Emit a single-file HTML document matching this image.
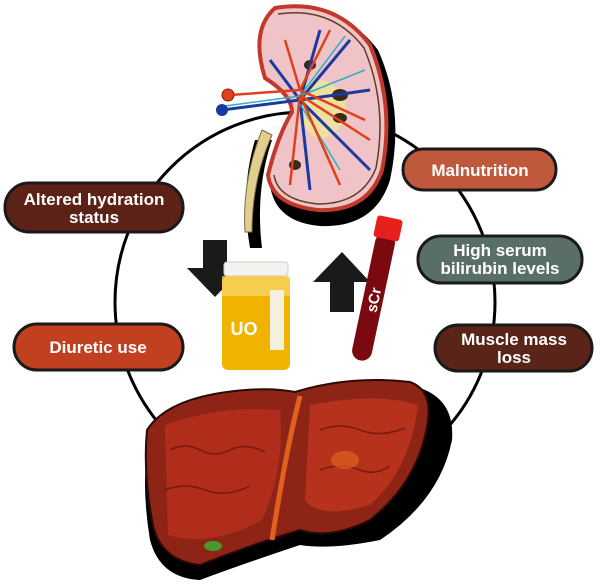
<!DOCTYPE html>
<html><head><meta charset="utf-8"><style>
body{margin:0;background:#fff;width:600px;height:585px;overflow:hidden}
svg{display:block}
.t{font-family:"Liberation Sans Narrow","Liberation Sans",sans-serif;font-weight:bold;fill:#fff;font-size:17px;text-anchor:middle}
</style></head><body>
<svg width="600" height="585" viewBox="0 0 600 585">
<circle cx="305" cy="302" r="190" fill="none" stroke="#000" stroke-width="3"/>
<!-- kidney -->
<path d="M255,140 Q240,190 250,248 L262,248 Q255,190 272,140 Z" fill="#000"/>
<path d="M262,130 Q242,180 245,232 L252,232 Q252,180 272,135 Z" fill="#e0cf8f" stroke="#7a6a3a" stroke-width="1"/>
<path d="M280,10 Q340,0 378,50 Q405,110 390,180 Q375,228 320,226 Q275,222 270,185 Q282,140 300,115 Q300,95 270,80 Q255,30 280,10 Z" fill="#000"/>
<path d="M275,8 Q335,-2 370,45 Q395,105 382,170 Q368,212 318,210 Q272,205 268,175 Q278,135 292,112 Q292,95 265,78 Q250,30 275,8 Z" fill="#efc3c8" stroke="#c0392b" stroke-width="4"/>
<path d="M278,14 Q332,6 364,48 Q388,105 376,168 Q362,204 318,204 Q278,200 274,175" fill="none" stroke="#5a4020" stroke-width="1.5"/>
<path d="M300,85 Q330,70 345,100 Q350,130 320,140 Q295,130 300,85 Z" fill="#f0e0a0"/>
<g fill="#3a2a1a"><ellipse cx="340" cy="95" rx="8" ry="6"/><ellipse cx="340" cy="118" rx="7" ry="5"/><ellipse cx="310" cy="65" rx="6" ry="5"/><ellipse cx="295" cy="165" rx="6" ry="5"/></g>
<g stroke="#1a3aa0" stroke-width="3" fill="none">
<path d="M222,110 L300,100 L350,40 M300,100 L370,90 M300,100 L350,150 L370,170 M300,100 L310,190 M300,100 L270,60 M300,100 L320,30"/>
</g>
<g stroke="#30b0c0" stroke-width="1.5" fill="none">
<path d="M225,106 L300,96 L345,36 M300,96 L365,70 M300,104 L340,170"/>
</g>
<g stroke="#e0401c" stroke-width="2.5" fill="none">
<path d="M230,95 L300,90 L330,30 M300,90 L365,120 M300,95 L290,185 M300,95 L340,185 M300,90 L285,40 M300,95 L370,140"/>
</g>
<circle cx="228" cy="95" r="6" fill="#e0401c" stroke="#8a1a10"/>
<circle cx="222" cy="110" r="6" fill="#1a3aa0"/>
<!-- down arrow -->
<polygon points="203,240 227,240 227,268 243,268 215,297 187,268 203,268" fill="#1a1a1a"/>
<!-- up arrow -->
<polygon points="342,252 370,282 354,282 354,312 330,312 330,282 313,282" fill="#1a1a1a"/>
<!-- cup -->
<rect x="224" y="262" width="64" height="14" rx="3" fill="#f2f2ee" stroke="#ccc"/>
<rect x="222" y="276" width="68" height="94" rx="6" fill="#f0b400"/>
<rect x="222" y="276" width="68" height="20" fill="#f6d870" opacity=".7"/>
<rect x="270" y="290" width="14" height="60" fill="#f4f0e0"/>
<text x="244" y="335" font-family="Liberation Sans,sans-serif" font-size="18" font-weight="bold" fill="#fff" text-anchor="middle">UO</text>
<!-- tube -->
<g transform="rotate(12 375 290)">
<rect x="365" y="232" width="20" height="130" rx="10" fill="#7a0a10"/>
<rect x="362" y="216" width="26" height="22" rx="3" fill="#e8201c"/>
<text transform="translate(381 300) rotate(-90)" font-family="Liberation Sans,sans-serif" font-size="15" font-weight="bold" fill="#fff" text-anchor="middle">sCr</text>
</g>
<!-- liver -->
<path d="M300,400 Q360,380 420,388 Q455,400 452,440 Q440,500 380,540 Q330,550 300,545 Q240,565 200,580 Q160,578 150,540 Q140,480 150,430 Q175,405 230,398 Q270,392 300,400 Z" fill="#000"/>
<path d="M295,392 Q350,375 410,382 Q432,390 428,420 Q420,480 370,520 Q330,540 300,530 Q250,545 200,565 Q158,560 152,520 Q143,470 147,430 Q165,402 220,393 Q265,386 295,392 Z" fill="#8e2416" stroke="#2a0a05" stroke-width="2"/>
<path d="M165,425 Q220,405 280,410 Q285,470 262,520 Q210,548 168,535 Z" fill="#b8301c" opacity=".8"/>
<path d="M310,405 Q380,392 418,405 Q410,470 370,505 Q320,520 305,500 Z" fill="#c0361e" opacity=".8"/>
<g fill="none" stroke="#5a1408" stroke-width="1.5" opacity=".7">
<path d="M170,450 q15,-8 30,0 q15,8 30,0 q15,-8 35,2 M165,490 q20,-8 40,0 q20,8 45,-4 M320,430 q20,-8 40,0 q20,8 45,-2 M320,470 q20,-8 40,0 q15,6 30,-4"/>
</g>
<ellipse cx="345" cy="460" rx="14" ry="9" fill="#e06020" opacity=".7"/>
<path d="M300,396 Q286,450 272,540" stroke="#e0601c" stroke-width="5" fill="none"/>
<ellipse cx="213" cy="546" rx="9" ry="5" fill="#4a9a2a"/>
<!-- pills -->
<g stroke="#1a1a1a" stroke-width="3">
<rect x="5" y="183" width="178" height="49" rx="24" fill="#5c2218"/>
<rect x="14" y="324" width="169" height="46" rx="23" fill="#c0401f"/>
<rect x="403" y="149" width="153" height="41" rx="20" fill="#c0583c"/>
<rect x="418" y="236" width="164" height="47" rx="23" fill="#5a6e69"/>
<rect x="435" y="325" width="157" height="46" rx="23" fill="#5a2418"/>
</g>
<text class="t" x="94" y="205">Altered hydration</text>
<text class="t" x="94" y="223">status</text>
<text class="t" x="98" y="353">Diuretic use</text>
<text class="t" x="480" y="176">Malnutrition</text>
<text class="t" x="500" y="256">High serum</text>
<text class="t" x="500" y="274">bilirubin levels</text>
<text class="t" x="514" y="345">Muscle mass</text>
<text class="t" x="514" y="363">loss</text>
</svg>
</body></html>
